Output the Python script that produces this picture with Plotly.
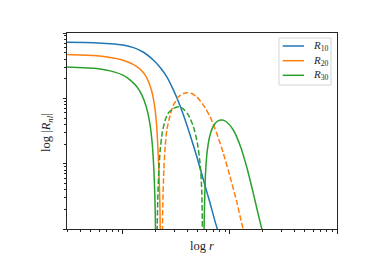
import math
import plotly.graph_objects as go

# ---- data ----
r_10 = [0.3007, 0.533, 0.7621, 1.0, 1.257, 1.557, 1.931, 2.228, 2.570, 2.965, 3.302,
        3.674, 4.240, 4.892, 5.644, 6.512, 7.249, 7.621, 8.069]
R_10 = [0.7203, 0.7120, 0.6875, 0.6561, 0.5975, 0.5072, 0.3829, 0.2960, 0.2133, 0.1335,
        0.08863, 0.05549, 0.02749, 0.01285, 0.005660, 0.002495, 0.001310, 0.001001, 0.000730]

r_20_pos = [0.3007, 0.533, 0.7621, 1.0, 1.257, 1.450, 1.615, 1.734, 1.863, 1.959, 2.045,
            2.104, 2.165, 2.212, 2.228, 2.244]
R_20_pos = [0.4673, 0.4512, 0.4205, 0.3829, 0.3289, 0.2792, 0.2261, 0.1789, 0.1259, 0.0836,
            0.04656, 0.02307, 0.008042, 0.002495, 0.001001, 0.000303]

r_20_neg = [2.325, 2.342, 2.358, 2.410, 2.480, 2.570, 2.761, 2.965, 3.302, 3.674, 4.004,
            4.395, 4.892, 5.644, 6.512, 7.513, 8.667, 10.0, 11.54, 12.85, 13.31, 13.80]
R_20_neg = [0.000303, 0.001001, 0.002495, 0.008042, 0.01825, 0.03277, 0.05549, 0.07884,
            0.1056, 0.1188, 0.1216, 0.1188, 0.1056, 0.07884, 0.05234, 0.02915, 0.01444,
            0.006365, 0.002646, 0.001236, 0.000978, 0.000730]

r_30_pos1 = [0.3007, 0.533, 0.7621, 1.0, 1.170, 1.350, 1.503, 1.650, 1.772, 1.876, 1.945,
             1.987, 2.015, 2.030]
R_30_pos1 = [0.3030, 0.2891, 0.2633, 0.2261, 0.1897, 0.1501, 0.1120, 0.07436, 0.04391,
             0.02051, 0.008042, 0.003152, 0.001001, 0.000303]

r_30_neg = [2.074, 2.088, 2.119, 2.165, 2.228, 2.325, 2.480, 2.665, 2.965, 3.349, 3.674,
            4.091, 4.554, 4.963, 5.254, 5.445, 5.524, 5.564]
R_30_neg = [0.000303, 0.001001, 0.003152, 0.008042, 0.01624, 0.02915, 0.04656, 0.06024,
            0.07013, 0.07436, 0.06851, 0.05549, 0.03684, 0.02051, 0.01016, 0.003986,
            0.001001, 0.000303]

r_30_pos2 = [5.684, 5.725, 5.808, 5.933, 6.150, 6.512, 7.096, 7.786, 8.483, 9.310, 10.74,
             12.39, 14.30, 16.50, 19.03, 19.87, 20.74]
R_30_pos2 = [0.000303, 0.001001, 0.003152, 0.008042, 0.01624, 0.02749, 0.03905, 0.04548,
             0.04656, 0.04340, 0.03277, 0.01935, 0.009042, 0.003545, 0.001310, 0.001001,
             0.000730]

series_names = ["<i>R</i><sub>10</sub>", "<i>R</i><sub>20</sub>", "<i>R</i><sub>30</sub>"]
colors = ["#1f77b4", "#ff7f0e", "#2ca02c"]

x_range = [0.3, 100]
y_range = [1e-3, 1]

# ---- figure ----
fig = go.Figure()
lw = 1.5
dash = "5.5px,2.4px"

def add(x, y, color, dashed=False):
    fig.add_trace(go.Scatter(
        x=x, y=y, mode="lines", showlegend=False,
        line=dict(color=color, width=lw, dash=dash if dashed else "solid",
                  shape="spline", smoothing=0.6),
        hoverinfo="skip"))

add(r_10, R_10, colors[0])
add(r_20_pos, R_20_pos, colors[1])
add(r_30_pos1, R_30_pos1, colors[2])
add(r_20_neg, R_20_neg, colors[1], dashed=True)
add(r_30_neg, R_30_neg, colors[2], dashed=True)
add(r_30_pos2, R_30_pos2, colors[2])

axis_common = dict(
    type="log", showgrid=False, zeroline=False, showticklabels=False,
    showline=True, linecolor="#262626", linewidth=1, mirror=True,
    ticks="outside", ticklen=3.5, tickwidth=0.8, tickcolor="#262626",
    dtick=1,
    minor=dict(ticks="outside", ticklen=2, tickwidth=0.6, tickcolor="#262626",
               dtick="D1", showgrid=False),
)

fig.update_xaxes(range=[math.log10(x_range[0]), math.log10(x_range[1])], **axis_common)
fig.update_yaxes(range=[math.log10(y_range[0]), math.log10(y_range[1])], **axis_common)

# plot area: 270 x 196 px
PW, PH = 270.0, 196.0

def px_x(p):
    return p / PW

def px_y(p):
    return 1 - p / PH

# hand-placed legend (matplotlib style, compact)
shapes = [dict(type="rect", xref="paper", yref="paper",
               x0=px_x(212), x1=px_x(264), y0=px_y(52), y1=px_y(5),
               line=dict(color="#d5d5d5", width=1), fillcolor="rgba(255,255,255,0.8)",
               layer="above")]
annotations = []
row_y = [13, 27.7, 42.3]
for name, color, ry in zip(series_names, colors, row_y):
    shapes.append(dict(type="line", xref="paper", yref="paper",
                       x0=px_x(215.7), x1=px_x(237), y0=px_y(ry), y1=px_y(ry),
                       line=dict(color=color, width=lw), layer="above"))
    annotations.append(dict(text=name, xref="paper", yref="paper",
                            x=px_x(244), y=px_y(ry), xanchor="left", yanchor="middle",
                            showarrow=False, font=dict(size=11)))

annotations += [
    dict(text="log <i>r</i>", xref="paper", yref="paper", x=0.5, y=px_y(213),
         xanchor="center", yanchor="middle", showarrow=False, font=dict(size=12.5)),
    dict(text="log |<i>R</i><sub><i>nl</i></sub>|", xref="paper", yref="paper",
         x=px_x(-20), y=0.49, xanchor="center", yanchor="middle", textangle=-90,
         showarrow=False, font=dict(size=12.5)),
]

fig.update_layout(
    width=366, height=272,
    margin=dict(l=59, r=37, t=25, b=51),
    paper_bgcolor="white", plot_bgcolor="white",
    font=dict(family="Liberation Serif, DejaVu Serif, serif", size=12, color="#262626"),
    showlegend=False,
    shapes=shapes,
    annotations=annotations,
)

fig.write_html("out.html")
